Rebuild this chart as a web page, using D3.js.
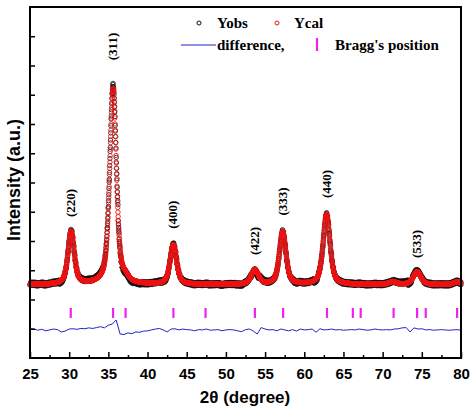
<!DOCTYPE html>
<html><head><meta charset="utf-8">
<script src="https://cdn.jsdelivr.net/npm/d3@7"></script>
<style>body{margin:0;background:#fff}</style></head>
<body><svg id="c" width="474" height="410"></svg>
<script>
// Peak list (2θ, height above background, FWHM)
const peakPos   = [30.25, 35.6, 37.2, 43.3, 53.7, 57.25, 62.85, 71.3, 74.4, 79.5];
const peakH     = [1.8,   6.7,  0.15, 1.35, 0.5,  1.8,   2.4,   0.1,  0.45, 0.1];
const peakW     = [0.95,  1.0,  0.9,  1.0,  1.1,  1.0,   1.05,  1.2,  1.15, 1.1];
const background = 2.5;
// Difference curve at 0.5° steps from 25 to 80
const diffVals = [0.04,0.03,-0.01,0.02,-0.03,0.0,0.03,0.01,-0.07,-0.04,0.03,0.04,0.02,0.05,0.04,0.07,0.05,0.08,0.11,0.07,0.16,
  0.2,0.34,-0.14,-0.16,-0.1,-0.13,-0.07,-0.08,-0.04,-0.03,
  0.0,0.03,0.05,0.0,-0.07,0.03,0.04,0.0,0.03,0.01,0.0,-0.03,0.01,0.0,0.03,-0.01,0.0,0.01,-0.03,0.0,
  0.01,0.0,-0.03,-0.06,0.01,0.03,-0.04,-0.14,0.08,0.03,0.0,0.01,-0.03,0.03,0.0,-0.03,0.01,-0.04,0.03,0.0,
  0.01,0.03,-0.08,0.04,0.0,0.01,0.03,0.0,0.01,-0.01,0.0,0.01,0.0,0.03,0.01,-0.01,0.0,0.03,0.01,0.0,
  0.01,0.0,0.03,0.04,0.07,0.08,-0.07,0.07,0.03,0.04,0.0,0.01,-0.01,0.0,0.01,0.0,-0.01,0.0,0.01,-0.01];
const diffBase = 0.96;
const braggPos = [30.2, 35.6, 37.2, 43.3, 47.4, 53.7, 57.3, 62.9, 66.2, 67.2, 71.4, 74.4, 75.5, 79.5];
const hklLabels = ["(220)","(311)","(400)","(422)","(333)","(440)","(533)"];
const hklX      = [30.25, 35.6, 43.3, 53.7, 57.25, 62.85, 74.4];
const hklY      = [5.3, 10.65, 4.9, 4.0, 5.35, 5.95, 3.9];
const xTicks = d3.range(25, 81, 5);

const svg = d3.select("#c");
const x = d3.scaleLinear().domain([25,80]).range([30,461]);
const y = d3.scaleLinear().domain([0,12]).range([358,7]);

function ycal(t){
  let s = background;
  for (let i=0;i<peakPos.length;i++){
    const d=(t-peakPos[i])/peakW[i];
    s += peakH[i]*(0.45*Math.exp(-4*Math.LN2*d*d) + 0.55/(1+4*d*d));
  }
  return s;
}
const grid = d3.range(0, 2201).map(i=>25+i*0.025);
const diffAt = t => diffVals[Math.min(diffVals.length-1, Math.round((t-25)/0.5))];

const g = svg.append("g");
g.selectAll(".o").data(grid).join("circle")
  .attr("cx", t=>x(t)).attr("cy", t=>y(ycal(t)+diffAt(t)*0.6+((Math.round(t*40)%5)-2)*0.025))
  .attr("r",2.2).attr("fill","none").attr("stroke","#111").attr("stroke-width",0.8);
g.selectAll(".c").data(grid).join("circle")
  .attr("cx", t=>x(t)).attr("cy", t=>y(ycal(t)))
  .attr("r",2.2).attr("fill","none").attr("stroke","#ee1111").attr("stroke-width",0.9);
g.append("path").datum(diffVals.map((v,i)=>[25+i*0.5, diffBase+v]))
  .attr("d", d3.line().x(d=>x(d[0])).y(d=>y(d[1])))
  .attr("fill","none").attr("stroke","#2222cc").attr("stroke-width",1);
g.selectAll(".b").data(braggPos).join("line")
  .attr("x1",d=>x(d)).attr("x2",d=>x(d)).attr("y1",y(1.71)).attr("y2",y(1.37))
  .attr("stroke","#ee22ee").attr("stroke-width",2.2);
g.selectAll(".h").data(hklLabels).join("text")
  .attr("transform",(d,i)=>`translate(${x(hklX[i])+4},${y(hklY[i])}) rotate(-90)`)
  .attr("text-anchor","middle").attr("font-family","Liberation Serif").attr("font-weight","bold")
  .attr("font-size",13).text(d=>d);

svg.append("rect").attr("x",30).attr("y",7).attr("width",431).attr("height",351)
  .attr("fill","none").attr("stroke","#000").attr("stroke-width",2);
const xa = svg.append("g").attr("transform","translate(0,358)")
  .call(d3.axisBottom(x).tickValues(xTicks).tickSize(-6).tickPadding(10).tickFormat(d3.format("d")));
xa.append("g").call(d3.axisBottom(x).tickValues(d3.range(27.5,80,5)).tickSize(-3).tickFormat(""));
xa.selectAll(".domain").remove();
xa.selectAll("line").attr("stroke-width",1.5);
xa.selectAll("text").attr("font-family","Liberation Sans").attr("font-weight","bold").attr("font-size",15).attr("fill","#000");
const ya = svg.append("g").attr("transform","translate(30,0)")
  .call(d3.axisLeft(y).tickValues(d3.range(1,12)).tickSize(-5).tickFormat(""));
ya.selectAll(".domain").remove();
ya.selectAll("line").attr("stroke-width",1.5);

svg.append("text").attr("x",245).attr("y",403).attr("text-anchor","middle")
  .attr("font-family","Liberation Sans").attr("font-weight","bold").attr("font-size",17).text("2θ (degree)");
svg.append("text").attr("transform","translate(20,180) rotate(-90)").attr("text-anchor","middle")
  .attr("font-family","Liberation Sans").attr("font-weight","bold").attr("font-size",18).text("Intensity (a.u.)");

const lf = {"font-family":"Liberation Serif","font-weight":"bold","font-size":15};
function txt(xp,yp,s){const t=svg.append("text").attr("x",xp).attr("y",yp).text(s);for(const k in lf)t.attr(k,lf[k]);}
svg.append("circle").attr("cx",199).attr("cy",23).attr("r",2).attr("fill","none").attr("stroke","#111");
txt(217,28,"Yobs");
svg.append("circle").attr("cx",277).attr("cy",23).attr("r",2).attr("fill","none").attr("stroke","#ee1111");
txt(294,28,"Ycal");
svg.append("line").attr("x1",181).attr("x2",216).attr("y1",45).attr("y2",45).attr("stroke","#2222cc").attr("stroke-width",1);
txt(217,50,"difference,");
svg.append("line").attr("x1",317).attr("x2",317).attr("y1",38).attr("y2",51).attr("stroke","#ee22ee").attr("stroke-width",2.2);
txt(335,50,"Bragg's position");
</script></body></html>
